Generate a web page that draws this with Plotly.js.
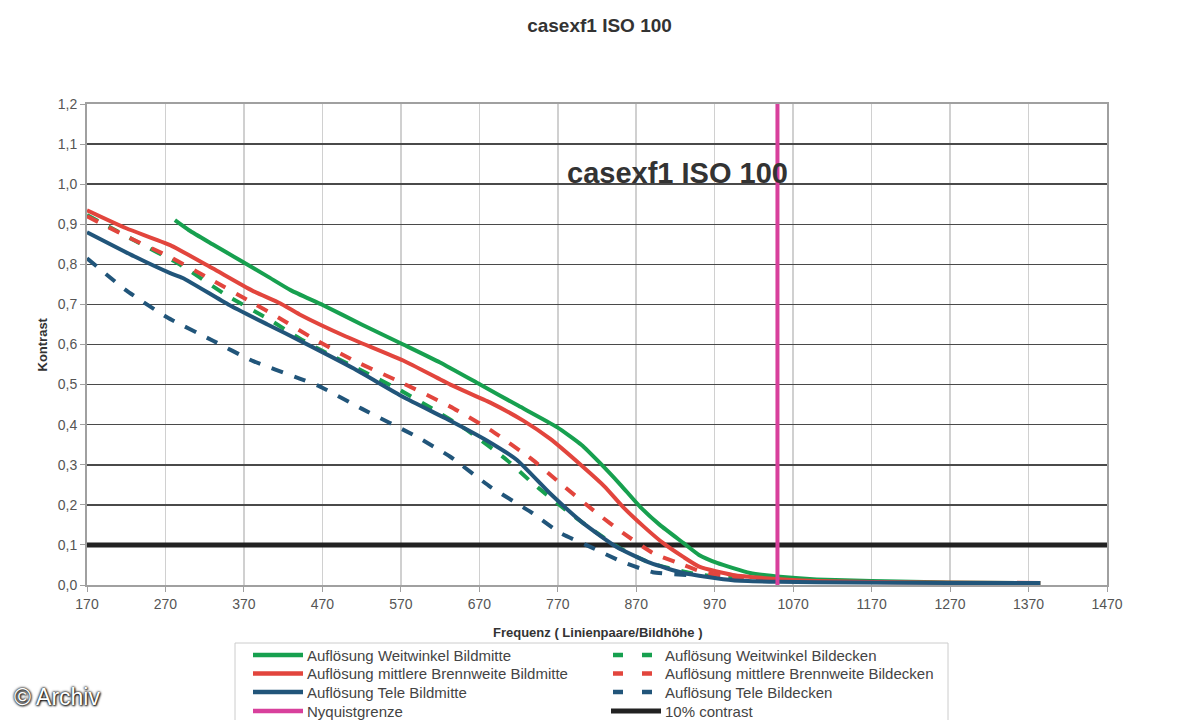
<!DOCTYPE html>
<html>
<head>
<meta charset="utf-8">
<script src="https://cdn.plot.ly/plotly-3.0.1.min.js"></script>
<style>html,body{margin:0;padding:0;background:#fff;}#chart{width:1199px;height:720px;}</style>
</head>
<body>
<div id="chart"></div>
<script>
// Weitwinkel Bildmitte (green solid)
const wwMitteX = [282, 300, 330, 365, 400, 430, 471, 520, 573, 620, 671, 720, 769, 800, 824, 850, 875, 900, 930, 950, 973, 1015, 1057, 1100, 1170, 1270, 1385];
const wwMitteY = [0.91, 0.885, 0.85, 0.81, 0.77, 0.735, 0.698, 0.65, 0.60, 0.555, 0.50, 0.447, 0.394, 0.35, 0.304, 0.25, 0.195, 0.15, 0.105, 0.075, 0.055, 0.03, 0.02, 0.014, 0.01, 0.006, 0.005];
// Weitwinkel Bildecken (green dashed)
const wwEckeX = [170, 230, 288, 350, 400, 441, 476, 520, 569, 610, 654, 705, 738, 777, 811, 849, 888, 939, 973, 1010];
const wwEckeY = [0.923, 0.86, 0.80, 0.72, 0.665, 0.615, 0.578, 0.535, 0.486, 0.44, 0.387, 0.312, 0.254, 0.192, 0.142, 0.092, 0.055, 0.03, 0.02, 0.015];
// mittlere Brennweite Bildmitte (red solid)
const mbMitteX = [170, 220, 276, 330, 380, 416, 441, 500, 573, 633, 684, 726, 760, 802, 830, 853, 880, 904, 930, 951, 993, 1049, 1100, 1200, 1385];
const mbMitteY = [0.935, 0.89, 0.848, 0.79, 0.735, 0.703, 0.675, 0.62, 0.56, 0.50, 0.455, 0.41, 0.365, 0.295, 0.245, 0.195, 0.145, 0.105, 0.07, 0.045, 0.025, 0.015, 0.01, 0.007, 0.005];
// mittlere Brennweite Bildecken (red dashed)
const mbEckeX = [170, 220, 276, 330, 380, 416, 454, 510, 573, 633, 684, 738, 773, 820, 853, 891, 930, 955, 993, 1040];
const mbEckeY = [0.92, 0.87, 0.818, 0.76, 0.705, 0.665, 0.62, 0.56, 0.503, 0.445, 0.387, 0.312, 0.254, 0.179, 0.13, 0.08, 0.05, 0.032, 0.02, 0.014];
// Tele Bildmitte (blue solid)
const teleMitteX = [170, 230, 276, 292, 350, 400, 445, 510, 573, 633, 680, 718, 760, 802, 845, 888, 930, 993, 1050, 1150, 1270, 1385];
const teleMitteY = [0.88, 0.82, 0.778, 0.766, 0.70, 0.65, 0.606, 0.54, 0.469, 0.41, 0.36, 0.312, 0.229, 0.155, 0.095, 0.055, 0.03, 0.012, 0.008, 0.006, 0.005, 0.005];
// Tele Bildecken (blue dashed)
const teleEckeX = [170, 220, 272, 330, 380, 441, 467, 520, 591, 633, 684, 738, 773, 815, 853, 891, 935];
const teleEckeY = [0.815, 0.735, 0.668, 0.61, 0.56, 0.515, 0.495, 0.44, 0.369, 0.32, 0.245, 0.179, 0.13, 0.092, 0.057, 0.032, 0.025];
// reference lines
const nyquistX = [1050, 1050];
const nyquistY = [0, 1.2];
const contrastX = [170, 1470];
const contrastY = [0.1, 0.1];

const seriesNames = [
  'Auflösung Weitwinkel Bildmitte',
  'Auflösung mittlere Brennweite Bildmitte',
  'Auflösung Tele Bildmitte',
  'Nyquistgrenze',
  'Auflösung Weitwinkel Bildecken',
  'Auflösung mittlere Brennweite Bildecken',
  'Auflösung Tele Bildecken',
  '10% contrast'
];

const GREEN = '#17a04f', RED = '#e2453d', BLUE = '#21557a', MAG = '#d8409c', BLK = '#222222';
const seriesColors = [GREEN, RED, BLUE, MAG, GREEN, RED, BLUE, BLK];
const seriesDashed = [false, false, false, false, true, true, true, false];

function tr(x, y, name, color, dash, width, smooth) {
  return {x: x, y: y, name: name, type: 'scatter', mode: 'lines',
    line: {color: color, width: width, dash: dash, shape: smooth ? 'spline' : 'linear', smoothing: 0.5},
    hoverinfo: 'skip', showlegend: false};
}

const data = [
  tr(contrastX, contrastY, seriesNames[7], BLK, 'solid', 5, false),
  tr(wwEckeX, wwEckeY, seriesNames[4], GREEN, 'dash', 4, true),
  tr(mbEckeX, mbEckeY, seriesNames[5], RED, 'dash', 4, true),
  tr(teleEckeX, teleEckeY, seriesNames[6], BLUE, 'dash', 4, true),
  tr(wwMitteX, wwMitteY, seriesNames[0], GREEN, 'solid', 4, true),
  tr(mbMitteX, mbMitteY, seriesNames[1], RED, 'solid', 4, true),
  tr(teleMitteX, teleMitteY, seriesNames[2], BLUE, 'solid', 4, true),
  tr(nyquistX, nyquistY, seriesNames[3], MAG, 'solid', 4, false)
];

const FONT = '"Liberation Sans", Arial, sans-serif';
const W = 1199, H = 720, ML = 87, MR = 92, MT = 104, MB = 135;
const PW = W - ML - MR, PH = H - MT - MB;
const px2x = p => (p - ML) / PW;
const px2y = p => (H - MB - p) / PH;

// hand-drawn legend (two columns)
const shapes = [{type: 'rect', xref: 'paper', yref: 'paper', x0: px2x(235), x1: px2x(948), y0: px2y(643), y1: px2y(726),
  line: {color: '#cccccc', width: 1}, fillcolor: 'rgba(0,0,0,0)', layer: 'below'}];
const annotations = [];
const rowY = [655, 673.5, 692, 711];
seriesNames.forEach((nm, i) => {
  const col = i < 4 ? 0 : 1, row = i % 4;
  const yy = px2y(rowY[row]);
  let x0, x1, tx;
  if (col === 0) { x0 = 253; x1 = 303; tx = 305; }
  else if (seriesDashed[i]) { x0 = 613; x1 = 652; tx = 663; }
  else { x0 = 611; x1 = 661; tx = 663; }
  shapes.push({type: 'line', xref: 'paper', yref: 'paper', x0: px2x(x0), x1: px2x(x1), y0: yy, y1: yy,
    line: {color: seriesColors[i], width: i === 7 ? 5 : 4.5, dash: seriesDashed[i] ? '10px,19px' : 'solid'}});
  annotations.push({text: nm, xref: 'paper', yref: 'paper', x: px2x(tx), xanchor: 'left', y: yy, yanchor: 'middle',
    showarrow: false, font: {family: FONT, size: 15, color: '#444'}});
});

annotations.push(
  {text: '<b>casexf1 ISO 100</b>', x: 922, y: 1.027, xref: 'x', yref: 'y', showarrow: false,
    font: {family: FONT, size: 29, color: '#333'}},
  {text: '<b>Kontrast</b>', xref: 'paper', yref: 'paper', x: px2x(42), xanchor: 'center', y: 0.5, yanchor: 'middle',
    textangle: -90, showarrow: false, font: {family: FONT, size: 13, color: '#333'}},
  {text: '<b>Frequenz ( Linienpaare/Bildhöhe )</b>', xref: 'paper', yref: 'paper', x: 0.5, xanchor: 'center',
    y: px2y(632), yanchor: 'middle', showarrow: false, font: {family: FONT, size: 13, color: '#333'}},
  {text: '© Archiv', xref: 'paper', yref: 'paper', x: px2x(12), xanchor: 'left', y: px2y(697), yanchor: 'middle',
    showarrow: false, font: {family: FONT, size: 23, color: '#ffffff', shadow: '0px 0px 2px #000, 0px 0px 3px #000, 1px 1px 2px #333'}}
);

const layout = {
  width: W, height: H,
  margin: {l: ML, r: MR, t: MT, b: MB},
  paper_bgcolor: '#ffffff', plot_bgcolor: '#ffffff',
  separators: ',.',
  font: {family: FONT, color: '#444', size: 13},
  showlegend: false,
  title: {text: '<b>casexf1 ISO 100</b>', font: {family: FONT, size: 19, color: '#333'},
    x: 0.5, xanchor: 'center', y: 1 - 25 / H, yanchor: 'middle', yref: 'container'},
  xaxis: {range: [170, 1470], tick0: 170, dtick: 100, tickmode: 'linear',
    showgrid: true, gridcolor: '#d0d0d0', gridwidth: 1.5, zeroline: false,
    showline: true, mirror: true, linecolor: '#a0a0a0', linewidth: 2,
    ticks: 'outside', ticklen: 5, tickcolor: '#a0a0a0',
    tickfont: {family: FONT, size: 14, color: '#555'}},
  yaxis: {range: [0, 1.2], tick0: 0, dtick: 0.1, tickmode: 'linear', tickformat: '.1f',
    showgrid: true, gridcolor: '#4a4a4a', gridwidth: 1.5, zeroline: false,
    showline: true, mirror: true, linecolor: '#a0a0a0', linewidth: 2,
    ticks: 'outside', ticklen: 5, tickcolor: '#a0a0a0',
    tickfont: {family: FONT, size: 14, color: '#555'}},
  shapes: shapes,
  annotations: annotations
};

Plotly.newPlot('chart', data, layout, {displayModeBar: false, staticPlot: true});
</script>
</body>
</html>
